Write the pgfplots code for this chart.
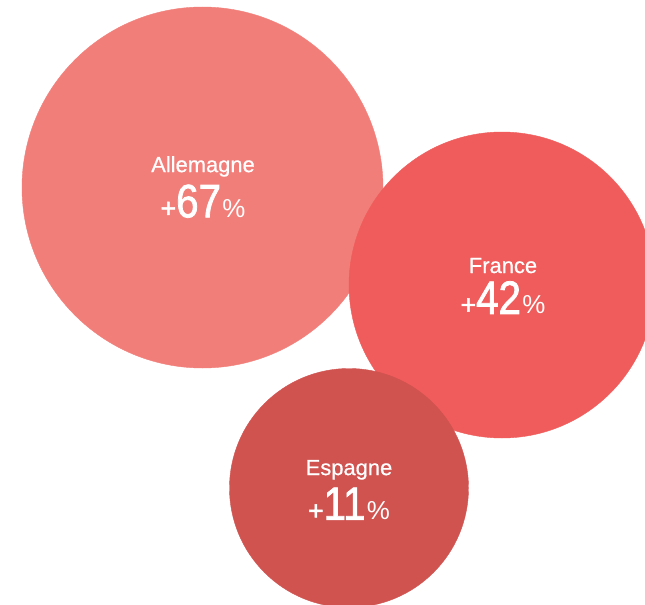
\documentclass[border=0pt]{standalone}
\usepackage{pgfplots}
\pgfplotsset{compat=1.18}
\usepackage{fontspec}
\setmainfont{Liberation Sans}
\newfontfamily\namefont[FakeBold=0.6]{Liberation Sans}
\newfontfamily\numfont[FakeStretch=0.86, FakeBold=1.6]{Liberation Sans}
\newfontfamily\plusfont[FakeBold=1.8]{Liberation Sans}

\definecolor{cDE}{HTML}{F27E79}
\definecolor{cFR}{HTML}{F05C5B}
\definecolor{cES}{HTML}{D05350}

% label: country name above, change in percent below
\pgfplotsset{
  bubble label/.style={
    only marks, mark=none,
    point meta=explicit symbolic,
    nodes near coords={%
      {\namefont\fontsize{22}{24}\selectfont #1}\\[7pt]%
      {\plusfont\fontsize{27}{30}\selectfont+}{\numfont\fontsize{47}{50}\selectfont\pgfplotspointmeta}\kern1.5pt{\fontsize{26}{30}\selectfont\%}},
    every node near coord/.append style={anchor=center, align=center, text=white, inner sep=0pt},
  },
}

\begin{document}
\begin{tikzpicture}
\begin{axis}[
  scale only axis,
  width=645bp, height=605bp,
  xmin=0, xmax=645, ymin=0, ymax=605,
  y dir=reverse,
  hide axis,
  clip=true,
  clip marker paths=true,
]
% bubbles (radius in px)
\addplot[only marks, mark=*, color=cDE, mark size=180.5bp] coordinates {(202.5,187.5)};
\addplot[only marks, mark=*, color=cFR, mark size=153bp] coordinates {(502,285)};
\addplot[only marks, mark=*, color=cES, mark size=119.5bp] coordinates {(349,488)};

% labels
\addplot[bubble label=Allemagne] coordinates {(203,187) [67]};
\addplot[bubble label=France] coordinates {(503,286) [42]};
\addplot[bubble label=Espagne] coordinates {(349,490) [11]};
\end{axis}
\pgfresetboundingbox
\path (current axis.south west) rectangle (current axis.north east);
\end{tikzpicture}
\end{document}
